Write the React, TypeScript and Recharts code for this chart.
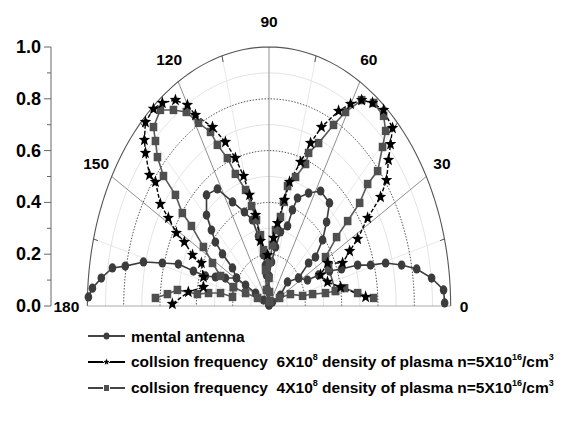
import { ComposedChart, Line, XAxis, YAxis, Legend } from 'recharts';

// null marks a gap in the drawn line.

// mental antenna (circles)
const mentalX = [
  0.967, 0.961, 0.895, 0.813, 0.73, 0.642, 0.559, 0.488, 0.399, 0.333, 0.273, 0.212, 0.163, 0.102, 0.063, 0.019, 0.0, null,
  0.163, 0.218, 0.256, 0.295, 0.317, 0.333, 0.284, 0.218, 0.157, 0.129, 0.102, 0.063, 0.036, 0.014, 0.0, -0.008, 0.0,
  -0.014, -0.014, -0.019, -0.03, -0.058, -0.091, -0.135, -0.201, -0.284, -0.344, -0.344, -0.317, -0.295, -0.256, -0.201,
  -0.179, -0.129, -0.074, -0.03, 0.0, null,
  -0.179, -0.24, -0.295, -0.35, -0.416, -0.499, -0.587, -0.691, -0.791, -0.862, -0.923, -0.972, -0.994,
];
const mentalY = [
  0.012, 0.062, 0.108, 0.143, 0.158, 0.166, 0.158, 0.158, 0.143, 0.135, 0.12, 0.1, 0.108, 0.093, 0.042, 0.015, 0.004, null,
  0.108, 0.166, 0.189, 0.255, 0.324, 0.398, 0.444, 0.436, 0.417, 0.371, 0.309, 0.286, 0.228, 0.17, 0.116, 0.062, 0.004,
  0.062, 0.12, 0.158, 0.197, 0.27, 0.332, 0.363, 0.402, 0.452, 0.429, 0.351, 0.293, 0.247, 0.201, 0.147,
  0.108, 0.081, 0.05, 0.023, 0.004, null,
  0.108, 0.108, 0.112, 0.116, 0.135, 0.162, 0.166, 0.17, 0.154, 0.147, 0.108, 0.069, 0.035,
];

// collision frequency 6X10^8 (stars)
const freq6X = [
  0.532, 0.394, 0.322, 0.284, 0.322, 0.405, 0.444, 0.488, 0.543, 0.614, 0.647, 0.658, 0.669, 0.68, 0.631, 0.57, 0.51,
  0.449, 0.383, 0.289, 0.229, 0.174, 0.113, 0.085, 0.047, 0.025, -0.008, -0.047, -0.074, -0.107, -0.14, -0.185, -0.24,
  -0.311, -0.405, -0.449, -0.515, -0.587, -0.636, -0.68, -0.686, -0.68, -0.658, -0.625, -0.598, -0.554, -0.51, -0.466,
  -0.421, -0.372, -0.361, -0.361, -0.444, -0.532,
];
const freq6Y = [
  0.035, 0.073, 0.093, 0.12, 0.166, 0.166, 0.212, 0.259, 0.34, 0.421, 0.486, 0.564, 0.625, 0.687, 0.757, 0.784, 0.795,
  0.78, 0.753, 0.691, 0.629, 0.556, 0.479, 0.409, 0.32, 0.263, 0.197, 0.251, 0.351, 0.429, 0.502, 0.571, 0.633,
  0.691, 0.737, 0.776, 0.795, 0.784, 0.761, 0.71, 0.641, 0.591, 0.506, 0.479, 0.394, 0.34, 0.282, 0.247,
  0.197, 0.166, 0.112, 0.073, 0.054, 0.008,
];

// collision frequency 4X10^8 (squares)
const freq4X = [
  0.576, 0.488, 0.416, 0.366, 0.311, 0.24, 0.185, 0.118, 0.058, 0.003, null,
  0.366, 0.328, 0.311, 0.372, 0.433, 0.499, 0.543, 0.598, 0.625, 0.642, 0.631, 0.576, 0.51, 0.421, 0.355, 0.273, 0.218,
  0.201, 0.146, 0.102, 0.08, 0.063, 0.036, 0.019, 0.003, 0.0, 0.003, 0.003, -0.014, -0.019, -0.03, -0.047, -0.069,
  -0.096, -0.129, -0.185, -0.229, -0.284, -0.322, -0.388, -0.455, -0.526, -0.598, -0.636, -0.625, -0.614, -0.581,
  -0.515, -0.477, -0.427, -0.361, -0.311, -0.267, -0.196, -0.129, -0.063, 0.003, null,
  -0.196, -0.201, -0.267, -0.333, -0.394, -0.504, -0.559, -0.625,
];
const freq4Y = [
  0.031, 0.05, 0.069, 0.058, 0.05, 0.046, 0.039, 0.046, 0.031, 0.019, null,
  0.058, 0.147, 0.189, 0.266, 0.328, 0.398, 0.471, 0.521, 0.614, 0.676, 0.734, 0.784, 0.795, 0.749, 0.699, 0.629, 0.591,
  0.548, 0.498, 0.463, 0.402, 0.344, 0.293, 0.236, 0.17, 0.108, 0.054, 0.019, 0.062, 0.139, 0.216, 0.274, 0.332,
  0.386, 0.448, 0.51, 0.571, 0.622, 0.672, 0.707, 0.749, 0.757, 0.757, 0.691, 0.637, 0.575, 0.502,
  0.429, 0.359, 0.309, 0.228, 0.166, 0.116, 0.073, 0.05, 0.031, 0.019, null,
  0.073, 0.035, 0.05, 0.05, 0.046, 0.062, 0.046, 0.031,
];

const radialTicks = [0, 0.1, 0.2, 0.3, 0.4, 0.5, 0.6, 0.7, 0.8, 0.9, 1.0];
const majorRings = [0.2, 0.4, 0.6, 0.8];
const minorRings = [0.1, 0.3, 0.5, 0.7, 0.9];
const majorSpokes = [30, 60, 90, 120, 150];
const minorSpokes = [15, 45, 75, 105, 135, 165];
const angleLabels = [0, 30, 60, 90, 120, 150, 180];

const FONT = '"Liberation Sans", Arial, sans-serif';
const rad = (deg: number) => (deg * Math.PI) / 180;

const toPoints = (xs: (number | null)[], ys: (number | null)[]) =>
  xs.map((x, i) => ({ x: x == null ? 0 : x, y: ys[i] }));

const arc = (r: number) => {
  const pts = [];
  for (let a = 0; a <= 180; a += 2) pts.push({ x: r * Math.cos(rad(a)), y: r * Math.sin(rad(a)) });
  return pts;
};
const spoke = (deg: number, r0 = 0, r1 = 1) => [
  { x: r0 * Math.cos(rad(deg)), y: r0 * Math.sin(rad(deg)) },
  { x: r1 * Math.cos(rad(deg)), y: r1 * Math.sin(rad(deg)) },
];
// label anchors sit on the outer ring; the text is pushed outward when drawn
const labelPoints = angleLabels.map((a) => ({
  x: Math.cos(rad(a)),
  y: Math.max(0, Math.sin(rad(a))),
  angle: a,
}));

const starPath = (cx: number, cy: number, R: number, sy = 1.1) => {
  let d = '';
  for (let i = 0; i < 10; i++) {
    const rr = i % 2 === 0 ? R : R * 0.42;
    const a = -Math.PI / 2 + (i * Math.PI) / 5;
    d += (i === 0 ? 'M' : 'L') + (cx + rr * Math.cos(a)).toFixed(2) + ',' + (cy + rr * Math.sin(a) * sy).toFixed(2);
  }
  return d + 'Z';
};

const valid = (p: any) => p.cy != null && !isNaN(p.cy) && p.payload && p.payload.y != null;

const circleDot = (p: any) =>
  valid(p) ? <ellipse key={p.index} cx={p.cx} cy={p.cy} rx={3.8} ry={4.6} fill="#3c3c3c" /> : <g key={p.index} />;
const squareDot = (p: any) =>
  valid(p) ? <rect key={p.index} x={p.cx - 3.8} y={p.cy - 4.2} width={7.6} height={8.4} fill="#4f4f4f" /> : <g key={p.index} />;
const starDot = (p: any) =>
  valid(p) ? <path key={p.index} d={starPath(p.cx, p.cy, 6)} fill="#000" /> : <g key={p.index} />;

const labelDot = (p: any) => {
  const a = p.payload.angle;
  let x = p.cx + Math.cos(rad(a)) * 18;
  let y = p.cy - Math.sin(rad(a)) * 26;
  let anchor = 'middle';
  if (a === 0) { x = p.cx + 9; y = p.cy; anchor = 'start'; }
  if (a === 180) { x = p.cx - 8; y = p.cy; anchor = 'end'; }
  return (
    <text key={p.index} x={x} y={y} textAnchor={anchor} dominantBaseline="central"
      fontFamily={FONT} fontWeight="bold" fontSize={15.5} fill="#000">
      {a}
    </text>
  );
};

const renderYTick = (p: any) => {
  const v = p.payload.value;
  const major = Math.round(v * 10) % 2 === 0;
  return (
    <g>
      <line x1={p.x - (major ? 7 : 4)} x2={p.x} y1={p.y} y2={p.y} stroke="#666" />
      {major && (
        <text x={p.x - 10} y={p.y} textAnchor="end" dominantBaseline="central"
          fontFamily={FONT} fontWeight="bold" fontSize={18} fill="#000">
          {v.toFixed(1)}
        </text>
      )}
    </g>
  );
};

const renderLegend = () => {
  const rowY = [21, 47, 73];
  return (
    <svg width={573} height={95} style={{ display: 'block' }}>
      {rowY.map((y, i) => (
        <g key={i}>
          <line x1={88} x2={125} y1={y} y2={y} stroke={i === 1 ? '#000' : '#444'} strokeWidth={2} />
          {i === 0 && <ellipse cx={106.5} cy={y} rx={3} ry={3.6} fill="#3c3c3c" />}
          {i === 1 && <path d={starPath(106.5, y, 4.4)} fill="#000" stroke="#fff" strokeWidth={1} />}
          {i === 2 && <rect x={103.5} y={y - 3.5} width={6} height={7} fill="#4f4f4f" stroke="#fff" strokeWidth={1} />}
        </g>
      ))}
      <text x={131} y={rowY[0]} dominantBaseline="central" fontFamily={FONT} fontWeight="bold" fontSize={15.5}>
        mental antenna
      </text>
      {[1, 2].map((i) => (
        <text key={i} x={131} y={rowY[i] + 5} fontFamily={FONT} fontWeight="bold"
          fontSize={15.5} style={{ whiteSpace: 'pre' }}>
          <tspan>{`collsion frequency  ${i === 1 ? 6 : 4}X10`}</tspan>
          <tspan dy={-7} fontSize={9}>8</tspan>
          <tspan dy={7}>{' density of plasma n=5X10'}</tspan>
          <tspan dy={-7} fontSize={9}>16</tspan>
          <tspan dy={7}>/cm</tspan>
          <tspan dy={-7} fontSize={9}>3</tspan>
        </text>
      ))}
    </svg>
  );
};

export default function App() {
  return (
    <div style={{ position: 'absolute', left: 0, top: 0, width: 573, height: 421, background: '#fff', fontFamily: FONT }}>
      <ComposedChart width={573} height={421} margin={{ top: 47, right: 86, bottom: 115, left: 0 }}>
        <XAxis type="number" dataKey="x" domain={[-1.2, 1.2]} hide />
        <YAxis type="number" domain={[0, 1]} ticks={radialTicks} interval={0} width={51}
          axisLine={{ stroke: '#666' }} tickLine={false} tickSize={0} tickMargin={0} tick={renderYTick} />

        {/* grid: rings and spokes */}
        {minorRings.map((r) => (
          <Line key={'mr' + r} data={arc(r)} dataKey="y" stroke="#dcdcdc" strokeWidth={0.8} dot={false}
            activeDot={false} legendType="none" isAnimationActive={false} />
        ))}
        {minorSpokes.map((a) => (
          <Line key={'ms' + a} data={spoke(a)} dataKey="y" stroke="#e2e2e2" strokeWidth={0.8} dot={false}
            activeDot={false} legendType="none" isAnimationActive={false} />
        ))}
        {majorSpokes.map((a) => (
          <Line key={'MS' + a} data={spoke(a)} dataKey="y" stroke="#8f8f8f" strokeWidth={1} dot={false}
            activeDot={false} legendType="none" isAnimationActive={false} />
        ))}
        {majorRings.map((r) => (
          <Line key={'MR' + r} data={arc(r)} dataKey="y" stroke="#444" strokeWidth={0.9} strokeDasharray="1.5 1.5"
            dot={false} activeDot={false} legendType="none" isAnimationActive={false} />
        ))}
        {minorSpokes.map((a) => (
          <Line key={'tk' + a} data={spoke(a, 0.975, 1)} dataKey="y" stroke="#555" strokeWidth={1} dot={false}
            activeDot={false} legendType="none" isAnimationActive={false} />
        ))}
        <Line data={arc(1)} dataKey="y" stroke="#555" strokeWidth={1.1} dot={false} activeDot={false}
          legendType="none" isAnimationActive={false} />
        <Line data={[{ x: -1, y: 0 }, { x: 1, y: 0 }]} dataKey="y" stroke="#aaa" strokeWidth={1} dot={false}
          activeDot={false} legendType="none" isAnimationActive={false} />

        {/* series */}
        <Line name="mental antenna" data={toPoints(mentalX, mentalY)} dataKey="y" stroke="#3c3c3c" strokeWidth={1.6}
          dot={circleDot} activeDot={false} connectNulls={false} isAnimationActive={false} />
        <Line name="4X10^8" data={toPoints(freq4X, freq4Y)} dataKey="y" stroke="#5a5a5a" strokeWidth={1.6}
          dot={squareDot} activeDot={false} connectNulls={false} isAnimationActive={false} />
        <Line name="6X10^8" data={toPoints(freq6X, freq6Y)} dataKey="y" stroke="#000" strokeWidth={1.4}
          strokeDasharray="4 2" dot={starDot} activeDot={false} isAnimationActive={false} />

        {/* angle labels */}
        <Line data={labelPoints} dataKey="y" stroke="none" dot={labelDot} activeDot={false} legendType="none"
          isAnimationActive={false} />

        <Legend content={renderLegend} layout="horizontal" verticalAlign="middle" align="center"
          wrapperStyle={{ left: 0, top: 315, width: 573, height: 95 }} />
      </ComposedChart>
    </div>
  );
}
